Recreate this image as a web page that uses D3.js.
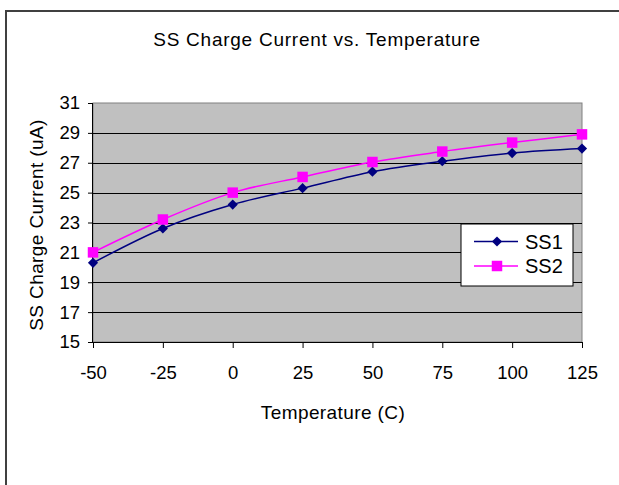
<!DOCTYPE html>
<html>
<head>
<meta charset="utf-8">
<script src="https://cdn.jsdelivr.net/npm/d3@7"></script>
<style>
body { margin: 0; background: #fff; }
svg text { font-family: "Liberation Sans", Arial, sans-serif; fill: #000; }
</style>
</head>
<body>
<div id="chartbox"></div>
<script>
var temps = [-50, -25, 0, 25, 50, 75, 100, 125];
var ss1 = [20.3, 22.6, 24.2, 25.3, 26.4, 27.1, 27.65, 27.95];
var ss2 = [21.0, 23.2, 25.0, 26.05, 27.05, 27.75, 28.35, 28.9];
var yTicks = [15, 17, 19, 21, 23, 25, 27, 29, 31];
var seriesNames = ["SS1", "SS2"];

var width = 619;
var height = 485;
var plot = { left: 93, right: 582, top: 103, bottom: 342 };

var svg = d3.select("#chartbox").append("svg")
	.attr("width", width)
	.attr("height", height);

// outer chart border (runs off the right and bottom edge)
svg.append("rect")
	.attr("x", 6).attr("y", 11)
	.attr("width", 640).attr("height", 500)
	.attr("fill", "#fff")
	.attr("stroke", "#404040")
	.attr("stroke-width", 2);

var x = d3.scaleLinear().domain([-50, 125]).range([plot.left, plot.right]);
var y = d3.scaleLinear().domain([15, 31]).range([plot.bottom, plot.top]);

// plot area
svg.append("rect")
	.attr("x", plot.left).attr("y", plot.top)
	.attr("width", plot.right - plot.left)
	.attr("height", plot.bottom - plot.top)
	.attr("fill", "#c0c0c0")
	.attr("stroke", "#808080")
	.attr("stroke-width", 1);

// gridlines
svg.append("g")
	.selectAll("line")
	.data(yTicks.slice(1, -1))
	.enter().append("line")
	.attr("x1", plot.left).attr("x2", plot.right)
	.attr("y1", function (d) { return Math.round(y(d)) + 0.5; })
	.attr("y2", function (d) { return Math.round(y(d)) + 0.5; })
	.attr("stroke", "#000")
	.attr("stroke-width", 1);

// axes, plain hyphen for negatives like the original
var plain = function (d) { return String(d); };

var yAxis = d3.axisLeft(y).tickValues(yTicks).tickSize(5).tickPadding(8).tickFormat(plain);
var gy = svg.append("g")
	.attr("transform", "translate(" + plot.left + ",0)")
	.call(yAxis);

var xAxis = d3.axisBottom(x).tickValues(temps).tickSize(6).tickPadding(18).tickFormat(plain);
var gx = svg.append("g")
	.attr("transform", "translate(0," + plot.bottom + ")")
	.call(xAxis);

[gx, gy].forEach(function (g) {
	g.selectAll("path").attr("stroke", "#000").attr("stroke-width", 1);
	g.selectAll("line").attr("stroke", "#000");
	g.selectAll("text")
		.style("font-size", "18.5px")
		.style("font-family", "'Liberation Sans', Arial, sans-serif")
		.attr("fill", "#000");
});
gx.select(".domain").attr("d", "M" + plot.left + ",0.5H" + plot.right);
gy.select(".domain").attr("d", "M-0.5," + plot.top + "V" + plot.bottom);

// series
var line = d3.line()
	.x(function (d, i) { return x(temps[i]); })
	.y(function (d) { return y(d); })
	.curve(d3.curveCatmullRom.alpha(0));

var series = [
	{ name: seriesNames[0], values: ss1, color: "#000080", rot: 45, size: 52 },
	{ name: seriesNames[1], values: ss2, color: "#ff00ff", rot: 0, size: 110 }
];

series.forEach(function (s) {
	svg.append("path")
		.attr("d", line(s.values))
		.attr("fill", "none")
		.attr("stroke", s.color)
		.attr("stroke-width", 1.5);
	svg.append("g")
		.selectAll("path")
		.data(s.values)
		.enter().append("path")
		.attr("transform", function (d, i) {
			return "translate(" + x(temps[i]) + "," + y(d) + ") rotate(" + s.rot + ")";
		})
		.attr("d", d3.symbol().type(d3.symbolSquare).size(s.size))
		.attr("fill", s.color);
});

// legend
var legend = svg.append("g").attr("transform", "translate(461,224)");
legend.append("rect")
	.attr("width", 112).attr("height", 62)
	.attr("fill", "#fff")
	.attr("stroke", "#000")
	.attr("stroke-width", 1);
series.forEach(function (s, i) {
	var ly = 17.5 + i * 24.5;
	legend.append("line")
		.attr("x1", 13).attr("x2", 57)
		.attr("y1", ly).attr("y2", ly)
		.attr("stroke", s.color)
		.attr("stroke-width", 1.5);
	legend.append("path")
		.attr("transform", "translate(36," + ly + ") rotate(" + s.rot + ")")
		.attr("d", d3.symbol().type(d3.symbolSquare).size(s.size))
		.attr("fill", s.color);
	legend.append("text")
		.attr("x", 64).attr("y", ly + 7)
		.style("font-size", "20px")
		.text(s.name);
});

// titles
svg.append("text")
	.attr("x", 317).attr("y", 46)
	.attr("text-anchor", "middle")
	.style("font-size", "19px")
	.style("letter-spacing", "0.75px")
	.text("SS Charge Current vs. Temperature");

svg.append("text")
	.attr("x", 333).attr("y", 419)
	.attr("text-anchor", "middle")
	.style("font-size", "19px")
	.style("letter-spacing", "0.4px")
	.text("Temperature (C)");

svg.append("text")
	.attr("transform", "translate(43,225) rotate(-90)")
	.attr("text-anchor", "middle")
	.style("font-size", "19px")
	.style("letter-spacing", "0.4px")
	.text("SS Charge Current (uA)");
</script>
</body>
</html>
